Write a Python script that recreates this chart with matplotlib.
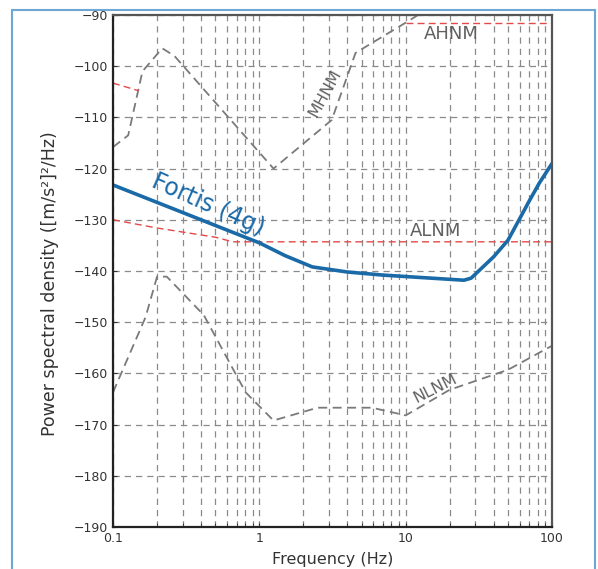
import matplotlib
matplotlib.use("Agg")
import matplotlib.pyplot as plt
from matplotlib.patches import Rectangle

# Peterson high noise model (NHNM)
nhnm_f = [0.1, 0.127, 0.159, 0.217, 0.263, 1.25, 3.125, 4.545, 10.0, 12.0]
nhnm_db = [-115.8, -113.5, -101.0, -96.5, -98.0, -120.0, -110.5, -97.4, -91.5, -90.1]

# Peterson low noise model (NLNM), plus high frequency extension
nlnm_f = [0.1, 0.167, 0.2, 0.233, 0.417, 0.806, 1.25, 2.5, 5.88, 10.0, 20.0, 50.0, 100.0]
nlnm_db = [-163.7, -149.0, -141.1, -141.1, -148.6, -163.7, -169.2, -166.7, -166.7, -168.2, -163.2, -159.3, -154.6]

# alternative high / low noise models
ahnm_lo_f = [0.1, 0.15]
ahnm_lo_db = [-103.3, -104.8]
ahnm_hi_f = [10.0, 100.0]
ahnm_hi_db = [-91.5, -91.5]
alnm_f = [0.1, 0.2, 0.5, 0.66, 100.0]
alnm_db = [-130.0, -131.6, -133.4, -134.3, -134.3]

# Fortis (4g) self noise
fortis_f = [0.1, 1.0, 1.5, 2.3, 4.0, 7.0, 15.0, 25.0, 28.0, 40.0, 50.0, 70.0, 82.0, 100.0]
fortis_db = [-123.2, -134.5, -137.0, -139.2, -140.2, -140.8, -141.4, -141.8, -141.4, -137.2, -134.0, -126.3, -122.8, -119.0]

yticks = [-90, -100, -110, -120, -130, -140, -150, -160, -170, -180, -190]
xticks = [0.1, 1, 10, 100]
xticklabels = ["0.1", "1", "10", "100"]

plt.rcParams['font.family'] = ['DejaVu Sans']

fig = plt.figure(figsize=(5.98, 5.69), dpi=100)
ax = fig.add_axes([113/598, 42/569, 439/598, 512/569])

gray = '#7a7a7a'
red = '#e24a4a'
blue = '#1a6aa8'

ax.plot(nhnm_f, nhnm_db, color=gray, lw=1.3, dashes=(5, 3))
ax.plot(nlnm_f, nlnm_db, color=gray, lw=1.3, dashes=(5, 3))
ax.plot(ahnm_lo_f, ahnm_lo_db, color=red, lw=1.0, dashes=(5, 3))
ax.plot(ahnm_hi_f, ahnm_hi_db, color=red, lw=1.0, dashes=(5, 3))
ax.plot(alnm_f, alnm_db, color=red, lw=1.0, dashes=(5, 3))
ax.plot(fortis_f, fortis_db, color=blue, lw=2.6, solid_capstyle='round', solid_joinstyle='round')

ax.set_xscale('log')
ax.set_xlim(0.1, 100)
ax.set_ylim(-190, -90)
ax.set_yticks(yticks)
ax.set_xticks(xticks)
ax.set_xticklabels(xticklabels)
ax.grid(True, which='major', color='#8a8a8a', lw=0.9, dashes=(5, 4))
ax.grid(True, which='minor', axis='x', color='#8a8a8a', lw=0.9, dashes=(5, 4))
ax.tick_params(which='both', direction='in', length=3, labelsize=9, colors='#333333')
ax.tick_params(which='minor', labelbottom=False)

for s in ['left', 'bottom']:
    ax.spines[s].set_color('#222222')
    ax.spines[s].set_linewidth(1.6)
for s in ['top', 'right']:
    ax.spines[s].set_color('#555555')
    ax.spines[s].set_linewidth(1.6)

ax.set_xlabel("Frequency (Hz)", fontsize=11.5, color='#333333', labelpad=5)
ax.set_ylabel("Power spectral density ([m/s²]²/Hz)", fontsize=12.5, color='#333333')
ax.yaxis.set_label_coords(-0.122, 0.475)

ax.text(0.445, -127.1, "Fortis (4g)", color=blue, fontsize=17, rotation=-24,
        ha='center', va='center', rotation_mode='anchor')
ax.text(2.8, -105.2, "MHNM", color='#606060', fontsize=11.5, rotation=61,
        ha='center', va='center', rotation_mode='anchor')
ax.text(20.6, -93.7, "AHNM", color='#606060', fontsize=13, ha='center', va='center')
ax.text(16.0, -132.2, "ALNM", color='#606060', fontsize=13, ha='center', va='center')
ax.text(16.0, -162.9, "NLNM", color='#606060', fontsize=11.5, rotation=27,
        ha='center', va='center', rotation_mode='anchor')

# light blue frame around the figure
fig.patches.append(Rectangle((12/598, -0.05), 583/598, 1.05 - 10/569, transform=fig.transFigure,
                             fill=False, edgecolor='#6fa6d2', lw=1.5))

fig.savefig("out.png", dpi=100)
